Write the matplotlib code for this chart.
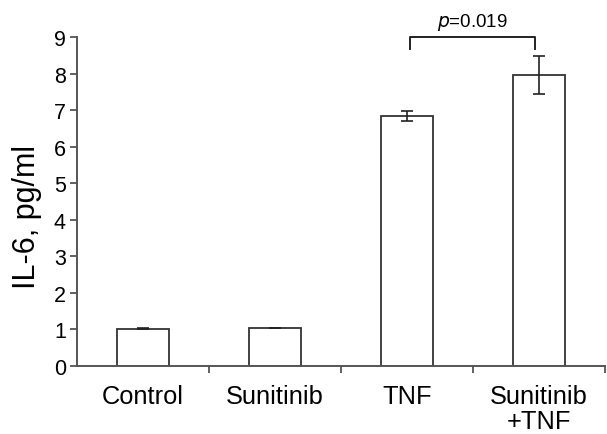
import matplotlib
matplotlib.use("Agg")
import matplotlib.pyplot as plt

categories = ["Control", "Sunitinib", "TNF", "Sunitinib\n+TNF"]
values = [1.02, 1.04, 6.84, 7.96]
errors = [0.015, 0.0, 0.13, 0.52]
yticks = list(range(0, 10))
p_text = "$\\it{p}$=0.019"

plt.rcParams['font.family'] = ['Liberation Sans', 'DejaVu Sans']

fig = plt.figure(figsize=(6.07, 4.35), dpi=100)
ax = fig.add_axes([77/607, 68/435, 528/607, 329/435])

x = list(range(len(categories)))
ax.bar(x, values, width=0.4, color="white", edgecolor="#333333", linewidth=1.3, zorder=2)
ax.errorbar(x, values, yerr=errors, fmt="none", ecolor="#222222", elinewidth=1.2,
            capsize=4.5, capthick=1.2, zorder=3)

ax.set_xlim(-0.5, 3.5)
ax.set_ylim(0, 9)
ax.set_yticks(yticks)
ax.set_yticklabels([str(t) for t in yticks], fontsize=15.5)
ax.tick_params(axis="y", direction="out", length=5, width=1.3, color="#555555", pad=3)

ax.set_xticks([0.5, 1.5, 2.5, 3.5])
ax.set_xticklabels([])
ax.tick_params(axis="x", which="major", direction="out", length=5, width=1.3, color="#555555")
ax.set_xticks(x, minor=True)
ax.set_xticklabels(categories, minor=True, fontsize=18.3, linespacing=1.05)
ax.tick_params(axis="x", which="minor", length=0, pad=13)

for s in ["top", "right"]:
    ax.spines[s].set_visible(False)
for s in ["left", "bottom"]:
    ax.spines[s].set_color("#555555")
    ax.spines[s].set_linewidth(1.4)

ax.set_ylabel("IL-6, pg/ml", fontsize=22)
ax.yaxis.set_label_coords(-0.067, 0.455)

# significance bracket
bx0, bx1, by, bdrop = 2.02, 2.97, 9.0, 0.32
ax.plot([bx0, bx0, bx1, bx1], [by - bdrop, by, by, by - bdrop], color="#222222",
        linewidth=1.4, clip_on=False, zorder=4)
ax.text((bx0 + bx1) / 2, 9.42, p_text, ha="center", va="center", fontsize=13.5, clip_on=False)

fig.savefig("out.png", dpi=100)
